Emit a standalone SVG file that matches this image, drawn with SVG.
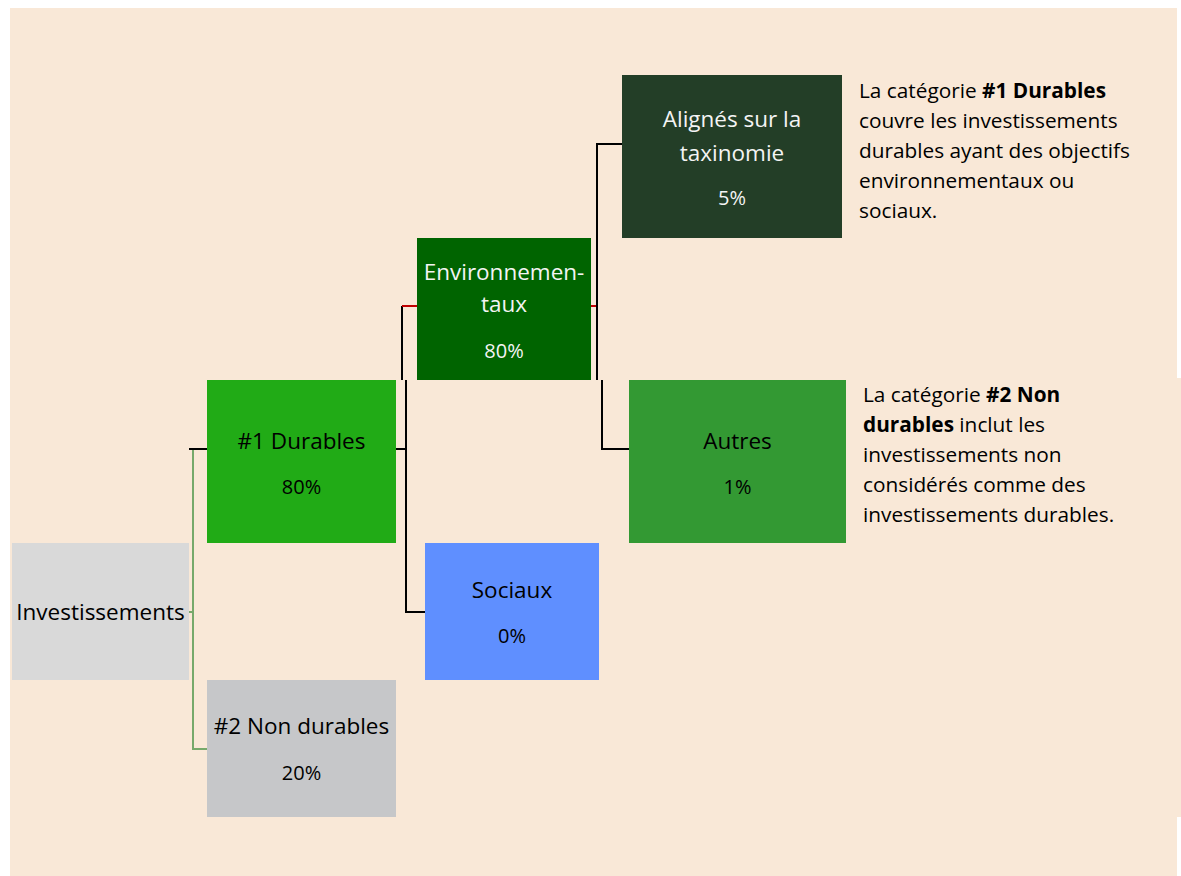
<svg xmlns="http://www.w3.org/2000/svg" width="1181" height="876" viewBox="0 0 1181 876">
<style>
.lbl{font-family:"Open Sans","Liberation Sans",sans-serif;font-size:22.5px;text-anchor:middle;fill:#000}
.pct{font-family:"Open Sans","Liberation Sans",sans-serif;font-size:20px;text-anchor:middle;fill:#000}
.wt{fill:#f4f4f4}
.side{font-family:"Open Sans","Liberation Sans",sans-serif;font-size:20.8px;fill:#000}
.b{font-weight:bold}
.k{stroke:#000;stroke-width:2;fill:none}
.r{stroke:#c00000;stroke-width:2;fill:none}
.g{stroke:#77a96b;stroke-width:2;fill:none}
</style>
<rect width="1181" height="876" fill="#ffffff"/>
<rect x="10" y="8" width="1167" height="868" fill="#f9e8d7"/>
<rect x="840" y="378" width="341" height="439" fill="#f9e8d7"/>
<g id="connectors">
<path class="g" d="M189 612H193M193 449V749H207"/>
<path class="k" d="M189 449H207"/>
<path class="k" d="M396 449H406M406 380V612H425"/>
<path class="k" d="M402 380V306"/>
<path class="r" d="M402 306H417"/>
<path class="r" d="M591 306H597"/>
<path class="k" d="M597 380V144H622"/>
<path class="k" d="M602 380V449H629"/>
</g>
<g id="investissements">
<rect x="12" y="543" width="177" height="137" fill="#d9d9d9"/>
<text class="lbl" x="100.5" y="620">Investissements</text>
</g>
<g id="durables">
<rect x="207" y="380" width="189" height="163" fill="#21ab16"/>
<text class="lbl" x="301.5" y="449">#1 Durables</text>
<text class="pct" x="301.5" y="494">80%</text>
</g>
<g id="non-durables">
<rect x="207" y="680" width="189" height="137" fill="#c6c7c9"/>
<text class="lbl" x="301.5" y="734">#2 Non durables</text>
<text class="pct" x="301.5" y="780">20%</text>
</g>
<g id="environnementaux">
<rect x="417" y="238" width="174" height="142" fill="#006400"/>
<text class="lbl wt" x="504" y="280">Environnemen-</text>
<text class="lbl wt" x="504" y="312">taux</text>
<text class="pct wt" x="504" y="358">80%</text>
</g>
<g id="sociaux">
<rect x="425" y="543" width="174" height="137" fill="#5f8fff"/>
<text class="lbl" x="512" y="598">Sociaux</text>
<text class="pct" x="512" y="643">0%</text>
</g>
<g id="alignes">
<rect x="622" y="75" width="220" height="163" fill="#233e27"/>
<text class="lbl wt" x="732" y="127">Alignés sur la</text>
<text class="lbl wt" x="732" y="161">taxinomie</text>
<text class="pct wt" x="732" y="205">5%</text>
</g>
<g id="autres">
<rect x="629" y="380" width="217" height="163" fill="#339933"/>
<text class="lbl" x="737.5" y="449">Autres</text>
<text class="pct" x="737.5" y="494">1%</text>
</g>
<g id="note1">
<text class="side" x="859" y="98">La catégorie <tspan class="b">#1 Durables</tspan></text>
<text class="side" x="859" y="128">couvre les investissements</text>
<text class="side" x="859" y="158">durables ayant des objectifs</text>
<text class="side" x="859" y="188">environnementaux ou</text>
<text class="side" x="859" y="218">sociaux.</text>
</g>
<g id="note2">
<text class="side" x="863" y="402">La catégorie <tspan class="b">#2 Non</tspan></text>
<text class="side" x="863" y="432"><tspan class="b">durables</tspan> inclut les</text>
<text class="side" x="863" y="462">investissements non</text>
<text class="side" x="863" y="492">considérés comme des</text>
<text class="side" x="863" y="522">investissements durables.</text>
</g>
</svg>
